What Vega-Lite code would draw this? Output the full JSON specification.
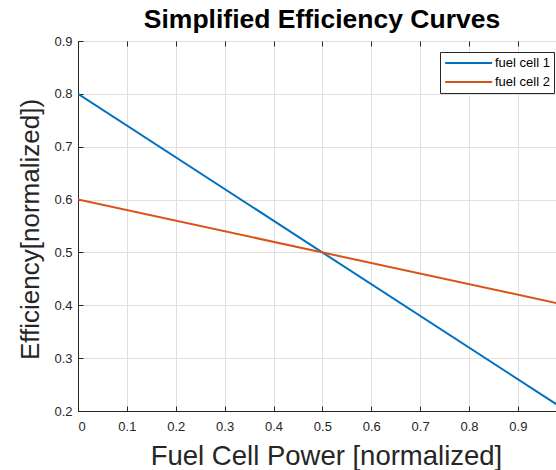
{
  "$schema": "https://vega.github.io/schema/vega-lite/v6.json",
  "width": 478,
  "height": 370,
  "autosize": {"type": "none"},
  "padding": {"left": 78, "top": 41, "right": 0, "bottom": 59},
  "background": "white",
  "title": {
    "text": "Simplified Efficiency Curves",
    "font": "Liberation Sans",
    "fontSize": 26.5,
    "fontWeight": "bold",
    "color": "black",
    "anchor": "middle",
    "baseline": "alphabetic",
    "dx": 5,
    "dy": 30,
    "offset": 11
  },
  "config": {
    "view": {"stroke": "#262626", "strokeWidth": 1},
    "axis": {
      "labelFont": "Liberation Sans",
      "labelFontSize": 13,
      "labelColor": "#262626",
      "titleFont": "Liberation Sans",
      "titleFontWeight": "normal",
      "titleColor": "#262626",
      "domainColor": "#262626",
      "tickColor": "#262626",
      "gridColor": "#dfdfdf",
      "gridWidth": 1
    }
  },
  "resolve": {"axis": {"x": "independent"}},
  "data": {
    "values": [
      {"power": 0, "efficiency": 0.8, "series": "fuel cell 1"},
      {"power": 1, "efficiency": 0.2, "series": "fuel cell 1"},
      {"power": 0, "efficiency": 0.6, "series": "fuel cell 2"},
      {"power": 1, "efficiency": 0.4, "series": "fuel cell 2"}
    ]
  },
  "layer": [
    {
      "mark": {"type": "line", "strokeWidth": 2, "clip": true},
      "encoding": {
        "x": {
          "field": "power",
          "type": "quantitative",
          "scale": {"domain": [0, 0.978], "nice": false},
          "axis": {
            "orient": "bottom",
            "title": "Fuel Cell Power [normalized]",
            "titleFontSize": 27.5,
            "values": [0, 0.1, 0.2, 0.3, 0.4, 0.5, 0.6, 0.7, 0.8, 0.9],
            "format": ".1~f",
            "tickSize": -5,
            "labelPadding": 14,
            "titleX": 248,
            "titleY": 31
          }
        },
        "y": {
          "field": "efficiency",
          "type": "quantitative",
          "scale": {"domain": [0.2, 0.9], "nice": false},
          "axis": {
            "title": "Efficiency[normalized])",
            "titleFontSize": 26,
            "values": [0.2, 0.3, 0.4, 0.5, 0.6, 0.7, 0.8, 0.9],
            "format": ".1f",
            "tickSize": -5,
            "labelPadding": 11,
            "titleX": -35,
            "titleY": 188
          }
        },
        "color": {
          "field": "series",
          "type": "nominal",
          "scale": {"domain": ["fuel cell 1", "fuel cell 2"], "range": ["#0072BD", "#D95319"]},
          "legend": {
            "title": null,
            "orient": "none",
            "legendX": 362,
            "legendY": 11,
            "symbolType": "M-1,0H7",
            "symbolStrokeWidth": 2,
            "symbolSize": 138,
            "labelFont": "Liberation Sans",
            "labelFontSize": 13,
            "labelOffset": 37,
            "labelColor": "black",
            "strokeColor": "#262626",
            "fillColor": "white",
            "padding": 4,
            "rowPadding": 5
          }
        }
      }
    },
    {
      "mark": {"type": "line", "opacity": 0},
      "encoding": {
        "x": {
          "field": "power",
          "type": "quantitative",
          "axis": {
            "orient": "top",
            "title": null,
            "labels": false,
            "grid": false,
            "domain": false,
            "values": [0, 0.1, 0.2, 0.3, 0.4, 0.5, 0.6, 0.7, 0.8, 0.9],
            "tickSize": -5
          }
        },
        "y": {"field": "efficiency", "type": "quantitative"},
        "detail": {"field": "series"}
      }
    }
  ]
}
